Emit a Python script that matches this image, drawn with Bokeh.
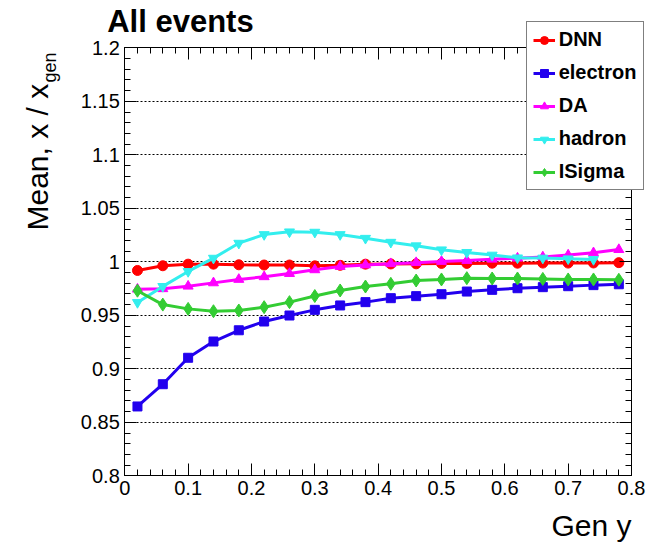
import numpy as np
from bokeh.plotting import figure
from bokeh.models import Range1d, LinearAxis, FixedTicker, Label, Legend, LegendItem
from bokeh.embed import file_html
from bokeh.resources import INLINE

# ---------------- data ----------------
gen_y = [0.02, 0.06, 0.10, 0.14, 0.18, 0.22, 0.26, 0.30, 0.34, 0.38,
         0.42, 0.46, 0.50, 0.54, 0.58, 0.62, 0.66, 0.70, 0.74, 0.78]

dnn = [0.9919, 0.9963, 0.9978, 0.9978, 0.9972, 0.9970, 0.9970, 0.9962, 0.9967, 0.9978,
       0.9980, 0.9981, 0.9985, 0.9985, 0.9987, 0.9987, 0.9988, 0.9988, 0.9989, 0.9992]
electron = [0.8648, 0.8856, 0.9103, 0.9255, 0.9360, 0.9442, 0.9498, 0.9551, 0.9592, 0.9623,
            0.9660, 0.9679, 0.9697, 0.9722, 0.9738, 0.9753, 0.9763, 0.9772, 0.9782, 0.9790]
da = [0.9744, 0.9748, 0.9772, 0.9803, 0.9835, 0.9860, 0.9890, 0.9925, 0.9956, 0.9970,
      0.9982, 0.9992, 1.0003, 1.0012, 1.0024, 1.0034, 1.0045, 1.0063, 1.0084, 1.0114]
# hadron has no visible point at the last bin (0.78)
hadron = [0.9620, 0.9770, 0.9910, 1.0034, 1.0174, 1.0255, 1.0280, 1.0277, 1.0255, 1.0220,
          1.0183, 1.0150, 1.0112, 1.0088, 1.0063, 1.0037, 1.0035, 1.0028, 1.0022]
isigma = [0.9730, 0.9600, 0.9560, 0.9538, 0.9545, 0.9576, 0.9623, 0.9680, 0.9732, 0.9769,
          0.9794, 0.9825, 0.9835, 0.9847, 0.9844, 0.9844, 0.9840, 0.9835, 0.9835, 0.9832]

series_names = ["DNN", "electron", "DA", "hadron", "ISigma"]
series_values = [dnn, electron, da, hadron, isigma]

x_ticks = [0.0, 0.1, 0.2, 0.3, 0.4, 0.5, 0.6, 0.7, 0.8]
x_tick_labels = ["0", "0.1", "0.2", "0.3", "0.4", "0.5", "0.6", "0.7", "0.8"]
y_ticks = [0.8, 0.85, 0.9, 0.95, 1.0, 1.05, 1.1, 1.15, 1.2]
y_tick_labels = ["0.8", "0.85", "0.9", "0.95", "1", "1.05", "1.1", "1.15", "1.2"]

title_text = "All events"
x_title = "Gen y"
y_title_main = "Mean, x / x"
y_title_sub = "gen"

# ---------------- layout / styles ----------------
W, H = 654, 544                 # canvas size (page has no margin)
X0, X1 = 0.0, 0.8               # axis extent
Y0, Y1 = 0.8, 1.2
# plot-box position inside the canvas, in pixels
BOX_L, BOX_R, BOX_T, BOX_B = 124.3, 631.0, 47.3, 475.3
sx_per = (BOX_R - BOX_L) / (X1 - X0)
sy_per = (BOX_B - BOX_T) / (Y1 - Y0)
x_range = Range1d(X0 - BOX_L / sx_per, X1 + (W - BOX_R) / sx_per)
y_range = Range1d(Y0 - (H - BOX_B) / sy_per, Y1 + BOX_T / sy_per)

colors = ["#ff0000", "#2200ee", "#ff00ff", "#33eeee", "#33cc33"]
markers = ["circle", "square", "triangle", "inverted_triangle", "diamond"]
sizes = [10, 9, 10, 10, 13]
FONT = "Liberation Sans"

x_minor = [round(v, 3) for v in np.arange(0, 0.8001, 0.02)]
y_minor = [round(v, 3) for v in np.arange(0.8, 1.2001, 0.01)]

p = figure(width=W, height=H, x_range=x_range, y_range=y_range,
           output_backend="svg", toolbar_location=None,
           min_border=0, min_border_left=0, min_border_right=0,
           min_border_top=0, min_border_bottom=0)
p.title.visible = False
p.background_fill_color = "white"
p.border_fill_color = "white"
p.outline_line_color = None


def style_axis(ax, ticks, minor, loc, bounds, overrides=None):
    ax.ticker = FixedTicker(ticks=ticks, minor_ticks=minor)
    ax.fixed_location = loc
    ax.bounds = bounds
    ax.axis_line_color = "black"
    ax.axis_line_width = 1
    ax.major_tick_in = 12
    ax.major_tick_out = 0
    ax.minor_tick_in = 6
    ax.minor_tick_out = 0
    ax.major_tick_line_color = "black"
    ax.minor_tick_line_color = "black"
    if overrides is not None:
        ax.major_label_text_font = FONT
        ax.major_label_text_font_size = "20px"
        ax.major_label_text_color = "black"
        ax.major_label_standoff = 5
        ax.major_label_overrides = overrides
    else:
        ax.major_label_text_font_size = "0px"
        ax.major_label_text_alpha = 0
        ax.major_label_standoff = 0
        ax.axis_label = None


style_axis(p.xaxis[0], x_ticks, x_minor, Y0, (X0, X1), dict(zip(x_ticks, x_tick_labels)))
style_axis(p.yaxis[0], y_ticks, y_minor, X0, (Y0, Y1), dict(zip(y_ticks, y_tick_labels)))
top_ax = LinearAxis()
style_axis(top_ax, x_ticks, x_minor, Y1, (X0, X1))
p.add_layout(top_ax, "above")
right_ax = LinearAxis()
style_axis(right_ax, y_ticks, y_minor, X1, (Y0, Y1))
p.add_layout(right_ax, "right")

p.xgrid.visible = False
p.ygrid.ticker = FixedTicker(ticks=y_ticks[1:-1])
p.ygrid.cross_bounds = (X0, X1)
p.ygrid.grid_line_color = "black"
p.ygrid.grid_line_dash = "2 2"
p.ygrid.grid_line_width = 1

items = []
for name, vals, c, m, s in zip(series_names, series_values, colors, markers, sizes):
    xs = gen_y[:len(vals)]
    ln = p.line(xs, vals, line_color=c, line_width=3)
    sc = p.scatter(xs, vals, marker=m, size=s, fill_color=c, line_color=c)
    items.append(LegendItem(label=name, renderers=[ln, sc]))

legend = Legend(items=items, location=(525.7, H - 190))
legend.label_text_font = FONT
legend.label_text_font_style = "bold"
legend.label_text_font_size = "20px"
legend.label_text_color = "black"
legend.glyph_width = 22
legend.glyph_height = 20
legend.label_height = 20
legend.label_standoff = 4
legend.spacing = 10
legend.padding = 6
legend.margin = 0
legend.border_line_color = "black"
legend.border_line_width = 1
legend.background_fill_color = "white"
legend.background_fill_alpha = 1
p.add_layout(legend)

p.add_layout(Label(x=106.7, y=H - 21.2, x_units="screen", y_units="screen",
                   text=title_text, text_font=FONT, text_font_style="bold",
                   text_font_size="31px", text_color="black",
                   text_align="left", text_baseline="alphabetic"))
p.add_layout(Label(x=BOX_R, y=H - 524.5, x_units="screen", y_units="screen",
                   text=x_title, text_font=FONT, text_font_size="30px", text_color="black",
                   text_align="right", text_baseline="alphabetic"))
p.add_layout(Label(x=37.2, y=H - 230, x_units="screen", y_units="screen",
                   text=y_title_main, text_font=FONT, text_font_size="30px", text_color="black",
                   angle=90, angle_units="deg",
                   text_align="left", text_baseline="alphabetic"))
p.add_layout(Label(x=49.3, y=H - 230 + 148, x_units="screen", y_units="screen",
                   text=y_title_sub, text_font=FONT, text_font_size="18px", text_color="black",
                   angle=90, angle_units="deg",
                   text_align="left", text_baseline="alphabetic"))

open("out.html", "w").write(file_html(p, INLINE))
